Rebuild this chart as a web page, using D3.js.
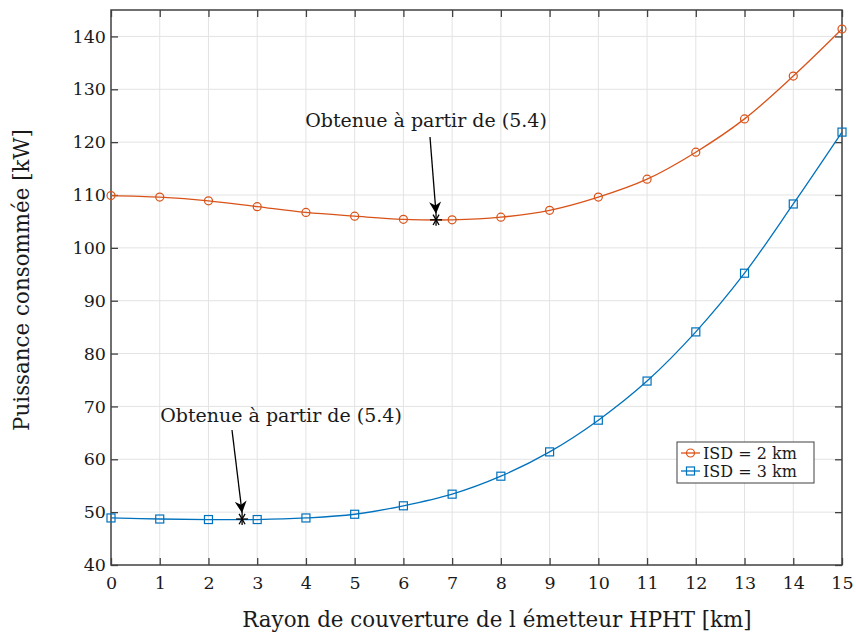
<!DOCTYPE html>
<html><head><meta charset="utf-8">
<script src="https://cdn.jsdelivr.net/npm/d3@7"></script>
<style>body{margin:0;background:#fff}svg{display:block}text{font-family:"DejaVu Serif",serif;fill:#1a1a1a}</style>
</head><body><svg id="c" width="856" height="634"></svg>
<script>
const xValues = [0,1,2,3,4,5,6,7,8,9,10,11,12,13,14,15];
const isd2 = [109.9,109.6,108.9,107.8,106.7,106.0,105.4,105.3,105.8,107.1,109.6,113.0,118.1,124.4,132.5,141.4];
const isd3 = [48.9,48.7,48.6,48.6,48.9,49.6,51.2,53.4,56.8,61.4,67.4,74.8,84.1,95.2,108.3,121.9];
const seriesNames = ["ISD = 2 km","ISD = 3 km"];
const optPoints = [[6.67,105.3],[2.69,48.7]];
const xTicks = [0,1,2,3,4,5,6,7,8,9,10,11,12,13,14,15];
const yTicks = [40,50,60,70,80,90,100,110,120,130,140];
const annText = "Obtenue à partir de (5.4)";

const svg = d3.select("#c");
const L=111,R=842,T=10,B=565;
const x = d3.scaleLinear().domain([0,15]).range([L,R]);
const y = d3.scaleLinear().domain([40,145]).range([B,T]);
const colors=["#D95319","#0072BD"];
const axc="#404040";

// grid
svg.append("g").selectAll("line").data(xTicks.slice(1,-1)).join("line")
 .attr("x1",d=>x(d)).attr("x2",d=>x(d)).attr("y1",T).attr("y2",B).attr("stroke","#e3e3e3").attr("stroke-width",1);
svg.append("g").selectAll("line").data(yTicks.slice(1)).join("line")
 .attr("y1",d=>y(d)).attr("y2",d=>y(d)).attr("x1",L).attr("x2",R).attr("stroke","#e3e3e3").attr("stroke-width",1);

// axes
const fs=17.5;
const xa = svg.append("g").attr("transform",`translate(0,${B})`).call(d3.axisBottom(x).tickValues(xTicks).tickSize(-7).tickPadding(12).tickFormat(d3.format("d")));
const xt = svg.append("g").attr("transform",`translate(0,${T})`).call(d3.axisTop(x).tickValues(xTicks).tickSize(-7).tickFormat(""));
const ya = svg.append("g").attr("transform",`translate(${L},0)`).call(d3.axisLeft(y).tickValues(yTicks).tickSize(-7).tickPadding(5).tickFormat(d3.format("d")));
const yr = svg.append("g").attr("transform",`translate(${R},0)`).call(d3.axisRight(y).tickValues(yTicks).tickSize(-7).tickFormat(""));
[xa,xt,ya,yr].forEach(g=>{g.selectAll(".domain").remove();g.selectAll("line").attr("stroke",axc).attr("stroke-width",1.3);
 g.selectAll("text").attr("font-family","DejaVu Serif").attr("font-size",fs).attr("fill","#1a1a1a");});
svg.append("rect").attr("x",L).attr("y",T).attr("width",R-L).attr("height",B-T).attr("fill","none").attr("stroke",axc).attr("stroke-width",1.5);

// lines
const line = d3.line().x((d,i)=>x(xValues[i])).y(d=>y(d)).curve(d3.curveCatmullRom.alpha(0.5));
[isd2,isd3].forEach((s,k)=>{
 svg.append("path").attr("d",line(s)).attr("fill","none").attr("stroke",colors[k]).attr("stroke-width",1.3);
});
svg.append("g").selectAll("circle").data(isd2).join("circle").attr("cx",(d,i)=>x(xValues[i])).attr("cy",d=>y(d)).attr("r",4)
 .attr("fill","none").attr("stroke",colors[0]).attr("stroke-width",1.2);
svg.append("g").selectAll("rect").data(isd3).join("rect").attr("x",(d,i)=>x(xValues[i])-4).attr("y",d=>y(d)-4).attr("width",8).attr("height",8)
 .attr("fill","none").attr("stroke",colors[1]).attr("stroke-width",1.2);

// stars & annotations
svg.append("defs").append("marker").attr("id","ah").attr("viewBox","0 0 10 10").attr("refX",10).attr("refY",5)
 .attr("markerWidth",12).attr("markerHeight",12).attr("markerUnits","userSpaceOnUse").attr("orient","auto")
 .append("path").attr("d","M0,0 L10,5 L0,10 L3,5 Z").attr("fill","#000");
const annPos=[[426,127,430,137],[281,422,232,430]];
optPoints.forEach((p,k)=>{
 const cx=x(p[0]),cy=y(p[1]);
 const g=svg.append("g").attr("stroke","#000").attr("stroke-width",1.3);
 [0,60,120].forEach(a=>{const r=a*Math.PI/180;g.append("line").attr("x1",cx-6*Math.cos(r)).attr("y1",cy-6*Math.sin(r)).attr("x2",cx+6*Math.cos(r)).attr("y2",cy+6*Math.sin(r));});
 g.append("line").attr("x1",cx).attr("y1",cy-6).attr("x2",cx).attr("y2",cy+6);
 const a=annPos[k];
 svg.append("text").attr("x",a[0]).attr("y",a[1]).attr("text-anchor","middle").attr("font-size",19).text(annText);
 svg.append("line").attr("x1",a[2]).attr("y1",a[3]).attr("x2",cx).attr("y2",cy-6).attr("stroke","#000").attr("stroke-width",1.3).attr("marker-end","url(#ah)");
});

// legend
const lg=svg.append("g");
lg.append("rect").attr("x",677).attr("y",442).attr("width",137).attr("height",41).attr("fill","#fff").attr("stroke",axc).attr("stroke-width",1);
seriesNames.forEach((n,k)=>{
 const yy=453+k*18;
 lg.append("line").attr("x1",681).attr("x2",700).attr("y1",yy).attr("y2",yy).attr("stroke",colors[k]).attr("stroke-width",1.3);
 if(k==0) lg.append("circle").attr("cx",690.5).attr("cy",yy).attr("r",4).attr("fill","none").attr("stroke",colors[k]).attr("stroke-width",1.2);
 else lg.append("rect").attr("x",686.5).attr("y",yy-4).attr("width",8).attr("height",8).attr("fill","none").attr("stroke",colors[k]).attr("stroke-width",1.2);
 lg.append("text").attr("x",703).attr("y",yy+5.5).attr("font-size",16).text(n);
});

// axis labels
svg.append("text").attr("x",497).attr("y",627).attr("text-anchor","middle").attr("font-size",21.4).text("Rayon de couverture de l émetteur HPHT [km]");
svg.append("text").attr("transform",`translate(29,${280}) rotate(-90)`).attr("text-anchor","middle").attr("font-size",21.4).text("Puissance consommée [kW]");
</script></body></html>
